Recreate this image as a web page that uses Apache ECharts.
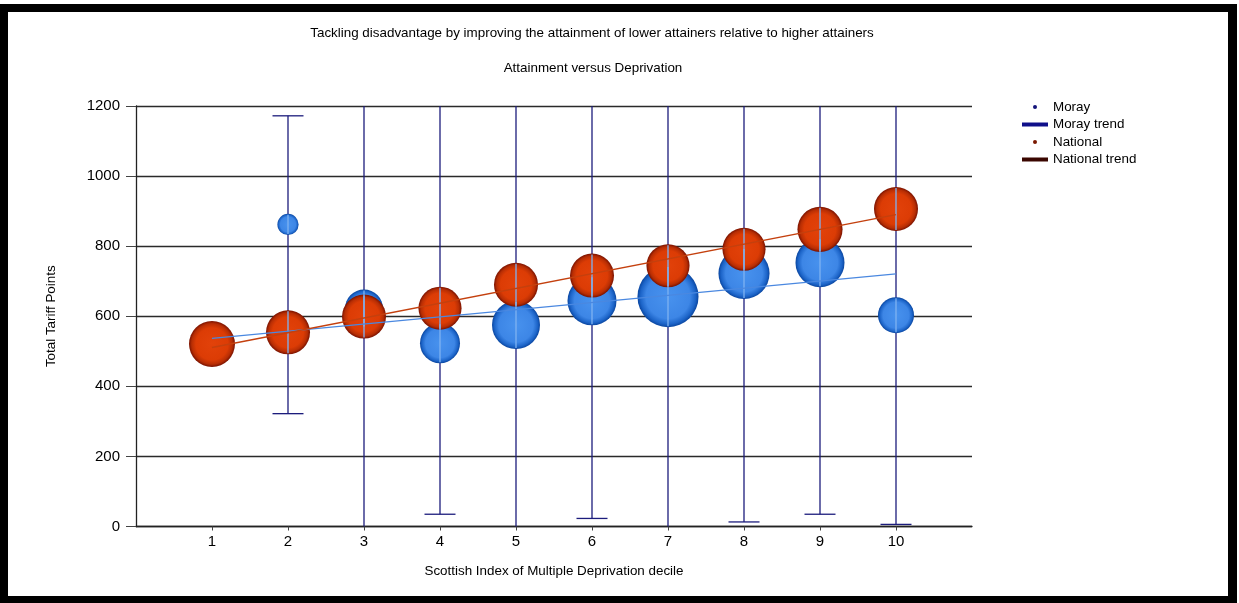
<!DOCTYPE html>
<html>
<head>
<meta charset="utf-8">
<script src="https://cdn.jsdelivr.net/npm/echarts@6/dist/echarts.min.js"></script>
<style>
  html, body { margin: 0; padding: 0; background: #ffffff; }
  #chart { position: absolute; left: 0; top: 0; width: 1239px; height: 603px; }
  #frame { position: absolute; left: 0; top: 4px; width: 1237px; height: 599px; box-sizing: border-box;
           border-style: solid; border-color: #000; border-width: 8px 9px 7px 8px; pointer-events: none; }
</style>
</head>
<body>
<div id="chart"></div>
<div id="frame"></div>
<script>
// ---- data ----
const deciles        = [1, 2, 3, 4, 5, 6, 7, 8, 9, 10];
const morayScore     = [null, 862, 622, 523, 575, 644, 656, 722, 753, 603];
const morayCohort    = [null, 28, 90, 100, 144, 150, 233, 163, 150, 81];
const morayLow       = [null, 322, -60, 35, -40, 23, -30, 13, 35, 6];
const morayHigh      = [null, 1172, 1310, 1290, 1380, 1340, 1390, 1420, 1460, 1270];
const nationalScore  = [521, 554, 599, 623, 690, 716, 744, 791, 848, 906];
const nationalCohort = [132, 121, 121, 116, 121, 121, 116, 116, 127, 121];
const morayTrend     = [537, 721];   // fitted value at decile 1 and decile 10
const nationalTrend  = [511, 890];
const yTickValues    = [0, 200, 400, 600, 800, 1000, 1200];

const titleMain = 'Tackling disadvantage by improving the attainment of lower attainers relative to higher attainers';
const titleSub  = 'Attainment versus Deprivation';
const xName = 'Scottish Index of Multiple Deprivation decile';
const yName = 'Total Tariff Points';

// ---- build ----
const FONT = 'Liberation Sans, Arial, sans-serif';
const TXT = 13.4;
const sizeOf = function (n) { return Math.sqrt(n) * 4; };

const morayData = [];
const errData = [];
const overlayData = [];
deciles.forEach(function (d, i) {
  if (morayScore[i] != null) {
    morayData.push([d, morayScore[i], morayCohort[i]]);
  }
  if (morayLow[i] != null) {
    errData.push([d, morayLow[i], morayHigh[i]]);
    overlayData.push([d, morayScore[i], morayCohort[i], nationalScore[i], nationalCohort[i]]);
  }
});
const nationalData = deciles.map(function (d, i) { return [d, nationalScore[i], nationalCohort[i]]; });

const blueGrad = { type: 'radial', x: 0.5, y: 0.5, r: 0.5, colorStops: [
  { offset: 0, color: '#4892ee' }, { offset: 0.72, color: '#3d86e6' },
  { offset: 0.9, color: '#1c64c8' }, { offset: 1, color: '#0a46a0' } ] };
const redGrad = { type: 'radial', x: 0.5, y: 0.5, r: 0.5, colorStops: [
  { offset: 0, color: '#e2420a' }, { offset: 0.7, color: '#dc3c05' },
  { offset: 0.88, color: '#b82e04' }, { offset: 1, color: '#7a1200' } ] };

const chart = echarts.init(document.getElementById('chart'));
chart.setOption({
  animation: false,
  backgroundColor: '#ffffff',
  textStyle: { fontFamily: FONT },
  graphic: [
    { type: 'text', x: 592, y: 33.5, style: { text: titleMain, font: TXT + 'px ' + FONT, fill: '#000', align: 'center', verticalAlign: 'middle' } },
    { type: 'text', x: 593, y: 68.5, style: { text: titleSub, font: TXT + 'px ' + FONT, fill: '#000', align: 'center', verticalAlign: 'middle' } }
  ],
  legend: {
    orient: 'vertical', left: 1017, top: 95,
    itemWidth: 26, itemHeight: 4, itemGap: 3.5,
    textStyle: { fontSize: TXT, color: '#000', fontFamily: FONT, lineHeight: 14 },
    data: [
      { name: 'Moray', icon: 'circle', itemStyle: { color: '#14147a', borderWidth: 0 } },
      { name: 'Moray trend', icon: 'rect', itemStyle: { color: '#10108a', borderWidth: 0 } },
      { name: 'National', icon: 'circle', itemStyle: { color: '#7a1800', borderWidth: 0 } },
      { name: 'National trend', icon: 'rect', itemStyle: { color: '#3a0600', borderWidth: 0 } }
    ]
  },
  grid: { left: 136, right: 267, top: 106, bottom: 76.5, containLabel: false, outerBoundsMode: 'none' },
  xAxis: {
    type: 'value', min: 0, max: 11, interval: 1,
    name: xName, nameLocation: 'middle', nameGap: 38,
    nameTextStyle: { fontSize: TXT, color: '#000', fontFamily: FONT },
    axisLine: { show: true, lineStyle: { color: '#222', width: 1.3 } },
    axisTick: { show: true, length: 4, customValues: deciles, lineStyle: { color: '#444' } },
    axisLabel: { fontSize: 15, color: '#000', margin: 8, customValues: deciles,
                 formatter: function (v) { return String(v); } },
    splitLine: { show: false }
  },
  yAxis: {
    type: 'value', min: 0, max: 1200, interval: 200,
    name: yName, nameLocation: 'middle', nameGap: 78,
    nameTextStyle: { fontSize: TXT, color: '#000', fontFamily: FONT },
    axisLine: { show: true, lineStyle: { color: '#222', width: 1.3 } },
    axisTick: { show: true, length: 10, customValues: yTickValues, lineStyle: { color: '#444' } },
    axisLabel: { fontSize: 15, color: '#000', margin: 16, customValues: yTickValues,
                 formatter: function (v) { return String(v); } },
    splitLine: { show: true, lineStyle: { color: '#2a2a2a', width: 1.3 } }
  },
  series: [
    {
      name: 'Moray error', type: 'custom', z: 2, silent: true,
      data: errData,
      renderItem: function (params, api) {
        const cs = params.coordSys;
        const top = cs.y, bottom = cs.y + cs.height;
        const x = api.value(0);
        const pHi = api.coord([x, api.value(2)]);
        const pLo = api.coord([x, api.value(1)]);
        const yHi = Math.max(top, pHi[1]);
        const yLo = Math.min(bottom, pLo[1]);
        const st = { stroke: '#1c1c7c', lineWidth: 1.3 };
        const ch = [{ type: 'line', shape: { x1: pHi[0], y1: yHi, x2: pHi[0], y2: yLo }, style: st }];
        if (pHi[1] >= top) ch.push({ type: 'line', shape: { x1: pHi[0] - 15.5, y1: pHi[1], x2: pHi[0] + 15.5, y2: pHi[1] }, style: st });
        if (pLo[1] <= bottom) ch.push({ type: 'line', shape: { x1: pLo[0] - 15.5, y1: pLo[1], x2: pLo[0] + 15.5, y2: pLo[1] }, style: st });
        return { type: 'group', children: ch };
      }
    },
    {
      name: 'Moray', type: 'scatter', z: 3,
      data: morayData,
      symbolSize: function (v) { return sizeOf(v[2]); },
      itemStyle: { color: blueGrad, opacity: 1 }
    },
    {
      name: 'National', type: 'scatter', z: 4,
      data: nationalData,
      symbolSize: function (v) { return sizeOf(v[2]); },
      itemStyle: { color: redGrad, opacity: 1 }
    },
    {
      name: 'Error overlay', type: 'custom', z: 5, silent: true,
      data: overlayData,
      renderItem: function (params, api) {
        const x = api.value(0);
        const ch = [];
        [[1, 2], [3, 4]].forEach(function (k) {
          const c = api.coord([x, api.value(k[0])]);
          const r = sizeOf(api.value(k[1])) / 2 - 1;
          ch.push({ type: 'line', shape: { x1: c[0], y1: c[1] - r, x2: c[0], y2: c[1] + r }, style: { stroke: '#7fb2f2', lineWidth: 1.3 } });
        });
        return { type: 'group', children: ch };
      }
    },
    {
      name: 'Moray trend', type: 'line', z: 6, symbol: 'none', silent: true,
      data: [[deciles[0], morayTrend[0]], [deciles[deciles.length - 1], morayTrend[1]]],
      lineStyle: { color: '#4a88e0', width: 1.2 },
      itemStyle: { color: '#10108a' }
    },
    {
      name: 'National trend', type: 'line', z: 6, symbol: 'none', silent: true,
      data: [[deciles[0], nationalTrend[0]], [deciles[deciles.length - 1], nationalTrend[1]]],
      lineStyle: { color: '#c4400e', width: 1.5 },
      itemStyle: { color: '#3a0600' }
    }
  ]
});
</script>
</body>
</html>
